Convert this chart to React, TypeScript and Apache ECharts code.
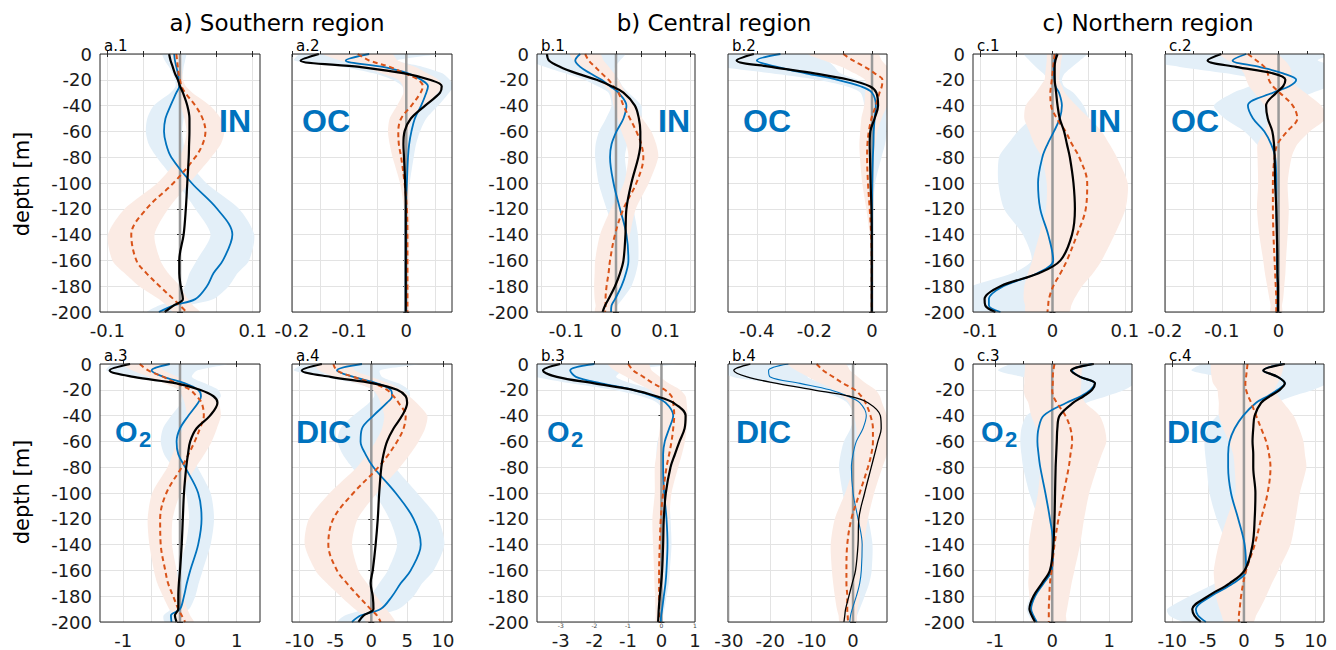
import { useEffect, useRef } from 'react';
import * as echarts from 'echarts';

// Depth levels (m) at which every profile is sampled
const DEPTHS = [0, 5, 10, 15, 20, 25, 30, 40, 50, 60, 70, 80, 100, 120, 140, 160, 170, 180, 190, 195, 200];

// ---- a) Southern region ----
const A1_BLUE = [-0.008, -0.007, -0.005, -0.003, -0.002, -0.001, -0.005, -0.013, -0.02, -0.022, -0.019, -0.012, 0.016, 0.051, 0.072, 0.059, 0.046, 0.037, 0.021, -0.009, -0.029];
const A1_ORANGE = [-0.005, -0.004, -0.003, -0.002, 0, 0.002, 0.007, 0.021, 0.031, 0.035, 0.031, 0.021, -0.009, -0.046, -0.067, -0.06, -0.046, -0.028, -0.009, 0, 0.009];
const A1_BLACK = [-0.015, -0.013, -0.01, -0.007, -0.003, 0, 0.004, 0.01, 0.013, 0.013, 0.0125, 0.012, 0.01, 0.008, 0.005, -0.001, -0.001, 0.001, 0.004, -0.009, -0.021];
const A1_BLUE_SD = [0.016, 0.014, 0.01, 0.007, 0.005, 0.005, 0.008, 0.023, 0.025, 0.025, 0.024, 0.02, 0.02, 0.03, 0.03, 0.036, 0.033, 0.03, 0.025, 0.02, 0.016];
const A1_ORANGE_SD = [0.006, 0.006, 0.005, 0.005, 0.004, 0.006, 0.01, 0.02, 0.025, 0.026, 0.025, 0.022, 0.022, 0.03, 0.032, 0.033, 0.03, 0.028, 0.02, 0.018, 0.018];

const A2_BLUE = [-0.065, -0.106, -0.041, 0.003, 0.026, 0.038, 0.035, 0.026, 0.015, 0.009, 0.005, 0.003, 0.001, -0.001, -0.001, -0.001, -0.001, -0.001, -0.001, -0.001, -0.001];
const A2_ORANGE = [-0.085, -0.065, -0.029, -0.003, 0.021, 0.029, 0.025, 0.009, -0.009, -0.014, -0.013, -0.009, -0.003, 0.001, 0.002, 0.002, 0.002, 0.002, 0.002, 0.002, 0.002];
const A2_BLACK = [-0.153, -0.185, -0.082, -0.003, 0.041, 0.062, 0.059, 0.033, 0.008, -0.003, -0.005, -0.004, -0.002, -0.001, -0.001, -0.001, -0.001, -0.001, -0.001, -0.001, -0.001];
const A2_BLUE_SD = [0.12, 0.09, 0.07, 0.06, 0.05, 0.045, 0.04, 0.03, 0.02, 0.015, 0.012, 0.01, 0.005, 0.003, 0.003, 0.003, 0.003, 0.003, 0.003, 0.003, 0.003];
const A2_ORANGE_SD = [0.06, 0.05, 0.045, 0.04, 0.035, 0.035, 0.03, 0.025, 0.02, 0.018, 0.016, 0.015, 0.008, 0.005, 0.004, 0.003, 0.003, 0.003, 0.003, 0.003, 0.003];

const A3_BLUE = [-0.18, -0.5, -0.29, 0.09, 0.32, 0.37, 0.32, 0.15, 0, -0.06, -0.03, 0.09, 0.32, 0.38, 0.32, 0.18, 0.12, 0.07, 0, -0.16, -0.15];
const A3_ORANGE = [-0.71, -0.56, -0.29, -0.06, 0.18, 0.29, 0.38, 0.42, 0.35, 0.26, 0.15, 0.03, -0.24, -0.35, -0.34, -0.26, -0.21, -0.12, -0.03, 0.03, 0.09];
const A3_BLACK = [-0.88, -1.24, -0.82, -0.06, 0.35, 0.59, 0.66, 0.53, 0.29, 0.18, 0.14, 0.11, 0.07, 0.05, 0.03, 0, -0.02, -0.03, -0.03, -0.09, -0.06];
const A3_BLUE_SD = [1.0, 0.8, 0.5, 0.35, 0.35, 0.35, 0.3, 0.3, 0.3, 0.28, 0.25, 0.22, 0.22, 0.22, 0.22, 0.22, 0.21, 0.2, 0.16, 0.13, 0.12];
const A3_ORANGE_SD = [0.3, 0.28, 0.25, 0.22, 0.2, 0.25, 0.3, 0.3, 0.3, 0.3, 0.28, 0.25, 0.25, 0.22, 0.2, 0.2, 0.19, 0.18, 0.16, 0.15, 0.15];

const A4_BLUE = [-1.3, -4.8, -2.5, 0.8, 2.7, 2.9, 2.2, 0.3, -1.3, -1.5, -0.8, 0.3, 3.4, 5.9, 6.9, 5.5, 4.1, 2.9, 1.3, -1.5, -2.7];
const A4_ORANGE = [-5.3, -4.8, -2.5, 0.3, 2.2, 3.1, 3.8, 4.8, 4.5, 3.6, 2.4, 1.0, -2.5, -5.3, -6.0, -4.8, -3.4, -1.8, -0.1, 0.8, 1.3];
const A4_BLACK = [-6.9, -9.7, -5.7, 0.3, 3.6, 4.8, 5.0, 4.3, 3.1, 2.2, 1.7, 1.4, 1.1, 0.9, 0.6, 0.2, -0.1, 0.2, 0.3, -1.1, -1.8];
const A4_BLUE_SD = [8, 6, 4, 3, 2.5, 2.5, 2.5, 2.8, 3, 3.2, 3.2, 3, 3, 3.4, 3.3, 3.2, 3, 3, 2.5, 2.2, 2];
const A4_ORANGE_SD = [2.5, 2.5, 2.5, 2.2, 2, 2.2, 2.5, 3, 3, 3, 3, 3, 3.3, 3.4, 3.3, 3, 2.8, 2.5, 2.2, 2, 2];

// ---- b) Central region ----
const B1_BLUE = [-0.072, -0.082, -0.072, -0.052, -0.029, -0.012, 0.005, 0.021, 0.015, 0.001, -0.009, -0.012, -0.005, 0.008, 0.021, 0.025, 0.02, 0.011, -0.002, -0.009, -0.01];
const B1_ORANGE = [-0.062, -0.055, -0.042, -0.029, -0.015, -0.005, 0.005, 0.015, 0.028, 0.041, 0.051, 0.055, 0.041, 0.015, -0.002, -0.012, -0.015, -0.019, -0.021, -0.021, -0.022];
const B1_BLACK = [-0.139, -0.135, -0.112, -0.079, -0.039, -0.009, 0.015, 0.038, 0.046, 0.049, 0.049, 0.045, 0.031, 0.021, 0.019, 0.015, 0.008, -0.002, -0.015, -0.022, -0.027];
const B1_BLUE_SD = [0.09, 0.09, 0.07, 0.05, 0.035, 0.025, 0.02, 0.03, 0.035, 0.035, 0.032, 0.03, 0.03, 0.027, 0.023, 0.02, 0.02, 0.02, 0.015, 0.012, 0.01];
const B1_ORANGE_SD = [0.03, 0.03, 0.028, 0.025, 0.02, 0.017, 0.015, 0.02, 0.025, 0.03, 0.03, 0.03, 0.025, 0.025, 0.03, 0.03, 0.028, 0.025, 0.022, 0.02, 0.02];

const B2_BLUE = [-0.318, -0.4, -0.33, -0.23, -0.12, -0.04, 0, 0.013, 0.009, 0.006, 0.005, 0.003, 0.001, 0, 0, 0, 0, 0, 0, 0, 0];
const B2_ORANGE = [-0.1, -0.066, -0.025, 0.009, 0.036, 0.034, 0.026, 0.013, -0.002, -0.011, -0.016, -0.017, -0.014, -0.008, -0.003, -0.001, -0.001, -0.001, -0.001, -0.001, -0.001];
const B2_BLACK = [-0.41, -0.47, -0.35, -0.2, -0.08, -0.008, 0.015, 0.021, 0.009, -0.006, -0.008, -0.007, -0.005, -0.002, -0.001, -0.001, -0.001, -0.001, -0.001, -0.001, -0.001];
const B2_BLUE_SD = [0.3, 0.25, 0.2, 0.12, 0.07, 0.05, 0.04, 0.04, 0.04, 0.045, 0.04, 0.03, 0.01, 0.004, 0.003, 0.003, 0.003, 0.003, 0.003, 0.003, 0.003];
const B2_ORANGE_SD = [0.12, 0.1, 0.08, 0.07, 0.06, 0.055, 0.05, 0.04, 0.035, 0.03, 0.028, 0.025, 0.02, 0.012, 0.005, 0.003, 0.003, 0.003, 0.003, 0.003, 0.003];

const B3_BLUE = [-2.0, -2.72, -2.55, -1.8, -0.85, -0.25, 0.12, 0.35, 0.23, 0.1, 0.05, 0.05, 0.08, 0.15, 0.18, 0.15, 0.12, 0.07, 0.02, -0.01, -0.02];
const B3_ORANGE = [-0.99, -0.84, -0.54, -0.25, 0.1, 0.3, 0.35, 0.38, 0.35, 0.3, 0.23, 0.15, 0.05, -0.02, -0.05, -0.07, -0.07, -0.07, -0.07, -0.07, -0.07];
const B3_BLACK = [-3.02, -3.53, -3.12, -2.0, -0.85, -0.15, 0.35, 0.72, 0.69, 0.54, 0.4, 0.27, 0.13, 0.07, 0.05, 0.02, -0.01, -0.05, -0.08, -0.09, -0.1];
const B3_BLUE_SD = [2.5, 1.6, 1.2, 0.9, 0.6, 0.35, 0.25, 0.2, 0.2, 0.22, 0.2, 0.2, 0.15, 0.12, 0.12, 0.1, 0.1, 0.08, 0.07, 0.06, 0.06];
const B3_ORANGE_SD = [0.6, 0.55, 0.5, 0.47, 0.45, 0.42, 0.4, 0.4, 0.4, 0.4, 0.38, 0.35, 0.25, 0.25, 0.2, 0.15, 0.14, 0.12, 0.11, 0.1, 0.1];

const B4_BLUE = [-15.6, -20.4, -20, -12.8, -5.6, -1.2, 1.6, 3.2, 2.4, 0.8, 0, -0.4, 0, 1.2, 2.2, 2.0, 1.6, 0.8, -0.2, -0.6, -0.8];
const B4_ORANGE = [-8.8, -7.2, -4.8, -2.4, 0.4, 2, 3, 4.2, 4.8, 4.8, 4.4, 3.6, 1.6, -0.4, -1.4, -1.6, -1.6, -1.4, -1.4, -1.3, -1.2];
const B4_BLACK = [-24.8, -28.8, -25.6, -18.4, -9.6, -0.8, 3.6, 6.6, 6.8, 6.0, 5.2, 4.4, 2.8, 1.4, 1.2, 0.6, -0.2, -1.0, -1.8, -2.0, -2.2];
const B4_BLUE_SD = [16, 12, 9, 6, 4, 3, 3, 3, 3, 3, 3, 3, 2.5, 2.5, 2.5, 2.5, 2.3, 2, 1.8, 1.6, 1.5];
const B4_ORANGE_SD = [7, 6.5, 6, 5.5, 5, 4.5, 4, 4, 4, 4, 3.8, 3.5, 3.5, 4, 4, 3.5, 3.2, 3, 2.5, 2.2, 2];

// ---- c) Northern region ----
const C1_BLUE = [0.004, 0.003, 0.002, 0.002, 0.003, 0.004, 0.009, 0.013, 0.01, 0.002, -0.007, -0.014, -0.02, -0.017, -0.006, 0.001, -0.021, -0.068, -0.088, -0.088, -0.072];
const C1_ORANGE = [0.003, 0.002, 0.001, 0, -0.001, -0.002, -0.003, -0.002, 0.006, 0.018, 0.027, 0.037, 0.048, 0.046, 0.034, 0.02, 0.011, 0.001, -0.005, -0.006, -0.007];
const C1_BLACK = [0.007, 0.004, 0.003, 0.003, 0.003, 0.004, 0.005, 0.007, 0.01, 0.016, 0.02, 0.024, 0.029, 0.031, 0.027, 0.011, -0.019, -0.072, -0.094, -0.093, -0.079];
const C1_BLUE_SD = [0.043, 0.035, 0.025, 0.015, 0.01, 0.012, 0.02, 0.03, 0.04, 0.05, 0.055, 0.06, 0.055, 0.05, 0.035, 0.03, 0.035, 0.045, 0.06, 0.06, 0.05];
const C1_ORANGE_SD = [0.01, 0.01, 0.01, 0.01, 0.01, 0.015, 0.02, 0.035, 0.045, 0.05, 0.052, 0.052, 0.056, 0.055, 0.052, 0.048, 0.045, 0.04, 0.035, 0.032, 0.03];

const C2_BLUE = [-0.057, -0.081, -0.034, 0.008, 0.031, 0.019, -0.01, -0.054, -0.045, -0.025, -0.013, -0.006, -0.004, -0.004, -0.003, -0.003, -0.002, -0.002, -0.002, -0.002, -0.002];
const C2_ORANGE = [-0.054, -0.039, -0.025, -0.019, -0.017, -0.01, 0.002, 0.025, 0.033, 0.015, -0.002, -0.007, -0.01, -0.01, -0.009, -0.007, -0.006, -0.005, -0.004, -0.004, -0.004];
const C2_BLACK = [-0.101, -0.125, -0.075, -0.01, 0.012, 0.008, -0.004, -0.022, -0.019, -0.011, -0.008, -0.007, -0.006, -0.004, -0.003, -0.002, -0.002, -0.001, -0.001, -0.001, -0.001];
const C2_BLUE_SD = [0.15, 0.15, 0.14, 0.1, 0.07, 0.07, 0.07, 0.06, 0.05, 0.035, 0.025, 0.015, 0.008, 0.005, 0.005, 0.005, 0.005, 0.005, 0.005, 0.005, 0.005];
const C2_ORANGE_SD = [0.05, 0.05, 0.045, 0.042, 0.04, 0.042, 0.045, 0.05, 0.05, 0.04, 0.035, 0.03, 0.026, 0.028, 0.025, 0.02, 0.018, 0.015, 0.012, 0.01, 0.01];

const C3_BLUE = [0.7, 0.35, 0.49, 0.75, 0.67, 0.5, 0.25, -0.15, -0.24, -0.26, -0.24, -0.21, -0.12, -0.04, 0.02, -0.01, -0.15, -0.3, -0.37, -0.33, -0.27];
const C3_ORANGE = [0.04, 0.02, 0.01, 0.01, 0, 0.02, 0.08, 0.23, 0.32, 0.35, 0.32, 0.29, 0.2, 0.11, 0.04, -0.01, -0.04, -0.05, -0.06, -0.06, -0.06];
const C3_BLACK = [0.73, 0.33, 0.49, 0.75, 0.7, 0.55, 0.37, 0.13, 0.09, 0.08, 0.07, 0.06, 0.05, 0.04, 0.02, -0.04, -0.18, -0.33, -0.4, -0.36, -0.3];
const C3_BLUE_SD = [1.4, 1.3, 1.0, 0.7, 0.6, 0.45, 0.35, 0.3, 0.3, 0.3, 0.3, 0.3, 0.28, 0.2, 0.12, 0.1, 0.1, 0.08, 0.08, 0.08, 0.08];
const C3_ORANGE_SD = [0.5, 0.5, 0.5, 0.5, 0.5, 0.5, 0.5, 0.6, 0.6, 0.6, 0.55, 0.5, 0.45, 0.45, 0.45, 0.4, 0.38, 0.35, 0.32, 0.3, 0.3];

const C4_BLUE = [5.4, 2.7, 4.7, 5.7, 4.7, 3.3, 1.7, -0.1, -1.3, -2.0, -2.2, -2.2, -1.8, -0.8, 0.1, 0.3, -1.5, -4.6, -6.7, -6.4, -5.3];
const C4_ORANGE = [0.5, 0.4, 0.3, 0.2, 0.3, 0.6, 1.0, 1.7, 2.4, 3.1, 3.5, 3.7, 3.3, 2.4, 1.5, 0.3, -0.1, -0.4, -0.6, -0.7, -0.7];
const C4_BLACK = [5.7, 2.7, 4.7, 5.7, 5.0, 3.6, 2.4, 1.5, 1.3, 1.2, 1.3, 1.3, 1.6, 1.5, 1.2, 0.1, -2.0, -5.0, -7.2, -6.9, -6.0];
const C4_BLUE_SD = [11, 10, 8, 6, 5, 3.5, 3, 3.6, 3.8, 3.5, 3.2, 3, 3, 3, 2.5, 2, 2.5, 3, 4, 4, 3];
const C4_ORANGE_SD = [5, 5, 4.8, 4.5, 4, 4.2, 4.5, 5.2, 5.3, 5.2, 5, 5, 4.5, 4.8, 5, 4.5, 4, 3.5, 2.8, 2.4, 2];

// Axis ticks and labels
const Y_MIN = -200;
const Y_MAX = 0;
const Y_STEP = 20;
const TICKS_IN = [-0.1, -0.05, 0, 0.05, 0.1];
const LABELS_IN = [-0.1, 0, 0.1];
const TICKS_OC = [-0.2, -0.15, -0.1, -0.05, 0, 0.05];
const LABELS_OC = [-0.2, -0.1, 0];
const TICKS_IN_B = [-0.15, -0.1, -0.05, 0, 0.05, 0.1, 0.15];
const TICKS_OC_B = [-0.4, -0.3, -0.2, -0.1, 0];
const LABELS_OC_B = [-0.4, -0.2, 0];
const TICKS_O2 = [-1, -0.5, 0, 0.5, 1];
const LABELS_O2 = [-1, 0, 1];
const TICKS_DIC = [-10, -5, 0, 5, 10];
const TICKS_O2_B = [-3, -2, -1, 0, 1];
const TICKS_DIC_B = [-30, -20, -10, 0];

type Panel = {
  id: string;
  tag: string;
  xMin: number;
  xMax: number;
  ticks: number[];
  labels: number[];
  blue: number[];
  orange: number[];
  black: number[];
  blueSd: number[];
  orangeSd: number[];
  yLabels: boolean;
  thin?: boolean;
};

const PANELS: Panel[] = [
  { id: 'a.1', tag: 'IN', xMin: -0.11, xMax: 0.11, ticks: TICKS_IN, labels: LABELS_IN, blue: A1_BLUE, orange: A1_ORANGE, black: A1_BLACK, blueSd: A1_BLUE_SD, orangeSd: A1_ORANGE_SD, yLabels: true },
  { id: 'a.2', tag: 'OC', xMin: -0.2, xMax: 0.08, ticks: TICKS_OC, labels: LABELS_OC, blue: A2_BLUE, orange: A2_ORANGE, black: A2_BLACK, blueSd: A2_BLUE_SD, orangeSd: A2_ORANGE_SD, yLabels: false },
  { id: 'b.1', tag: 'IN', xMin: -0.159, xMax: 0.159, ticks: TICKS_IN_B, labels: LABELS_IN, blue: B1_BLUE, orange: B1_ORANGE, black: B1_BLACK, blueSd: B1_BLUE_SD, orangeSd: B1_ORANGE_SD, yLabels: true },
  { id: 'b.2', tag: 'OC', xMin: -0.5, xMax: 0.052, ticks: TICKS_OC_B, labels: LABELS_OC_B, blue: B2_BLUE, orange: B2_ORANGE, black: B2_BLACK, blueSd: B2_BLUE_SD, orangeSd: B2_ORANGE_SD, yLabels: false },
  { id: 'c.1', tag: 'IN', xMin: -0.11, xMax: 0.11, ticks: TICKS_IN, labels: LABELS_IN, blue: C1_BLUE, orange: C1_ORANGE, black: C1_BLACK, blueSd: C1_BLUE_SD, orangeSd: C1_ORANGE_SD, yLabels: true },
  { id: 'c.2', tag: 'OC', xMin: -0.2, xMax: 0.08, ticks: TICKS_OC, labels: LABELS_OC, blue: C2_BLUE, orange: C2_ORANGE, black: C2_BLACK, blueSd: C2_BLUE_SD, orangeSd: C2_ORANGE_SD, yLabels: false },
  { id: 'a.3', tag: 'O2', xMin: -1.41, xMax: 1.41, ticks: TICKS_O2, labels: LABELS_O2, blue: A3_BLUE, orange: A3_ORANGE, black: A3_BLACK, blueSd: A3_BLUE_SD, orangeSd: A3_ORANGE_SD, yLabels: true },
  { id: 'a.4', tag: 'DIC', xMin: -11.07, xMax: 11.26, ticks: TICKS_DIC, labels: TICKS_DIC, blue: A4_BLUE, orange: A4_ORANGE, black: A4_BLACK, blueSd: A4_BLUE_SD, orangeSd: A4_ORANGE_SD, yLabels: false },
  { id: 'b.3', tag: 'O2', xMin: -3.71, xMax: 1.0, ticks: TICKS_O2_B, labels: TICKS_O2_B, blue: B3_BLUE, orange: B3_ORANGE, black: B3_BLACK, blueSd: B3_BLUE_SD, orangeSd: B3_ORANGE_SD, yLabels: true },
  { id: 'b.4', tag: 'DIC', xMin: -30.2, xMax: 8.2, ticks: TICKS_DIC_B, labels: TICKS_DIC_B, blue: B4_BLUE, orange: B4_ORANGE, black: B4_BLACK, blueSd: B4_BLUE_SD, orangeSd: B4_ORANGE_SD, yLabels: false, thin: true },
  { id: 'c.3', tag: 'O2', xMin: -1.39, xMax: 1.4, ticks: TICKS_O2, labels: LABELS_O2, blue: C3_BLUE, orange: C3_ORANGE, black: C3_BLACK, blueSd: C3_BLUE_SD, orangeSd: C3_ORANGE_SD, yLabels: true },
  { id: 'c.4', tag: 'DIC', xMin: -11.0, xMax: 11.16, ticks: TICKS_DIC, labels: TICKS_DIC, blue: C4_BLUE, orange: C4_ORANGE, black: C4_BLACK, blueSd: C4_BLUE_SD, orangeSd: C4_ORANGE_SD, yLabels: false },
];

const REGION_TITLES = ['a) Southern region', 'b) Central region', 'c) Northern region'];

// Layout (px)
const COL_LEFT = [100, 292, 537, 728, 973, 1165];
const COL_WIDTH = [160, 160, 158, 159, 159, 159];
const ROW_TOP = [54, 364];
const PLOT_H = 258;
const TITLE_X = [277, 714, 1148];
const TAG_LEFT = [219, 302, 658, 743, 1089, 1171, 115, 296, 547, 736, 981, 1167];
const TAG_Y = [121, 432];

// Styles
const FONT = 'DejaVu Sans';
const TAG_FONT = 'Liberation Sans';
const TXT = '#1a1a1a';
const BOX = '#262626';
const GRIDLINE = '#e3e3e3';
const BLUE = '#0072BD';
const ORANGE = '#D95319';
const BLUE_FILL = '#e3eff8';
const ORANGE_FILL = '#fbebe4';
const ZERO = '#999999';

// Shaded envelope (centre ± spread) drawn as one polygon through the axis scales
function bandSeries(idx: number, center: number[], sd: number[], fill: string, z: number) {
  return {
    type: 'custom',
    xAxisIndex: 2 * idx,
    yAxisIndex: 2 * idx,
    silent: true,
    clip: true,
    z,
    data: DEPTHS.map((d, k) => [center[k], -d]),
    renderItem: (params: any, api: any) => {
      if (params.dataIndex !== 0) return null;
      const lower = DEPTHS.map((d, k) => api.coord([center[k] - sd[k], -d]));
      const upper = DEPTHS.map((d, k) => api.coord([center[k] + sd[k], -d])).reverse();
      return {
        type: 'polygon',
        shape: { points: lower.concat(upper), smooth: 0.25 },
        style: { fill, stroke: 'none' },
      };
    },
  };
}

function profile(idx: number, values: number[], color: string, width: number, dashed: boolean, z: number) {
  return {
    type: 'line',
    xAxisIndex: 2 * idx,
    yAxisIndex: 2 * idx,
    data: DEPTHS.map((d, k) => [values[k], -d]),
    smooth: 0.35,
    symbol: 'none',
    silent: true,
    z,
    lineStyle: { color, width, type: dashed ? [5, 3.5] : 'solid' },
  };
}

function buildOption() {
  const grid: any[] = [];
  const xAxis: any[] = [];
  const yAxis: any[] = [];
  const series: any[] = [];
  const graphic: any[] = [];

  PANELS.forEach((p, i) => {
    const row = Math.floor(i / 6);
    const col = i % 6;
    const top = ROW_TOP[row];
    const left = COL_LEFT[col];
    // the grid's box sits above the shaded envelopes
    grid.push({ left, top, width: COL_WIDTH[col], height: PLOT_H, show: true, z: 10, borderColor: BOX, borderWidth: 1, backgroundColor: 'transparent' });

    const tickStyle = { color: BOX, width: 1 };
    xAxis.push({
      type: 'value', gridIndex: i, min: p.xMin, max: p.xMax, position: 'bottom',
      axisLine: { show: false },
      axisTick: { show: true, inside: true, length: 3, customValues: p.ticks, lineStyle: tickStyle },
      axisLabel: { customValues: p.labels, fontSize: 18, fontFamily: FONT, color: TXT, margin: 9 },
      splitLine: { show: true, lineStyle: { color: GRIDLINE, width: 1 } },
    });
    xAxis.push({
      type: 'value', gridIndex: i, min: p.xMin, max: p.xMax, position: 'top',
      axisLine: { show: false },
      axisTick: { show: true, inside: true, length: 3, customValues: p.ticks, lineStyle: tickStyle },
      axisLabel: { show: false },
      splitLine: { show: false },
    });
    yAxis.push({
      type: 'value', gridIndex: i, min: Y_MIN, max: Y_MAX, interval: Y_STEP, position: 'left',
      axisLine: { show: false },
      axisTick: { show: true, inside: true, length: 3, lineStyle: tickStyle },
      axisLabel: { show: p.yLabels, fontSize: 18, fontFamily: FONT, color: TXT, margin: 8 },
      splitLine: { show: true, lineStyle: { color: GRIDLINE, width: 1 } },
    });
    yAxis.push({
      type: 'value', gridIndex: i, min: Y_MIN, max: Y_MAX, interval: Y_STEP, position: 'right',
      axisLine: { show: false },
      axisTick: { show: true, inside: true, length: 3, lineStyle: tickStyle },
      axisLabel: { show: false },
      splitLine: { show: false },
    });

    series.push(bandSeries(i, p.blue, p.blueSd, BLUE_FILL, 1));
    series.push(bandSeries(i, p.orange, p.orangeSd, ORANGE_FILL, 2));
    series.push({
      type: 'line', xAxisIndex: 2 * i, yAxisIndex: 2 * i, data: [[0, Y_MAX], [0, Y_MIN]],
      symbol: 'none', silent: true, z: 3, lineStyle: { color: ZERO, width: 2.5 },
    });
    series.push(profile(i, p.blue, BLUE, p.thin ? 1.1 : 1.8, false, 4));
    series.push(profile(i, p.orange, ORANGE, 2, true, 5));
    series.push(profile(i, p.black, '#000000', p.thin ? 1.3 : 2.2, false, 6));

    // panel index label
    graphic.push({
      type: 'text', x: left + 4, y: top - 1,
      style: { text: p.id, font: `15px ${FONT}`, fill: '#000', textAlign: 'left', textVerticalAlign: 'bottom' },
    });

    // variable tag
    const tagLeft = TAG_LEFT[i];
    const tagY = TAG_Y[row];
    if (p.tag === 'O2') {
      graphic.push({
        type: 'text', x: tagLeft, y: tagY, z: 10,
        style: { text: 'O', font: `bold 29px ${TAG_FONT}`, fill: BLUE, textAlign: 'left', textVerticalAlign: 'middle' },
      });
      graphic.push({
        type: 'text', x: tagLeft + 24, y: tagY + 7, z: 10,
        style: { text: '2', font: `bold 22px ${TAG_FONT}`, fill: BLUE, textAlign: 'left', textVerticalAlign: 'middle' },
      });
    } else {
      graphic.push({
        type: 'text', x: tagLeft, y: tagY, z: 10,
        style: { text: p.tag, font: `bold 32px ${TAG_FONT}`, fill: BLUE, textAlign: 'left', textVerticalAlign: 'middle' },
      });
    }
  });

  // small duplicate labels just under the O2 axis of the central region
  xAxis.push({
    type: 'value', gridIndex: 8, min: PANELS[8].xMin, max: PANELS[8].xMax, position: 'bottom',
    axisLine: { show: false },
    axisTick: { show: false, customValues: TICKS_O2_B },
    axisLabel: { customValues: TICKS_O2_B, fontSize: 6, fontFamily: FONT, color: '#444', margin: 0 },
    splitLine: { show: false },
  });

  REGION_TITLES.forEach((t, k) => {
    graphic.push({
      type: 'text', x: TITLE_X[k], y: 23,
      style: { text: t, font: `23px ${FONT}`, fill: '#000', textAlign: 'center', textVerticalAlign: 'middle' },
    });
  });

  [184, 492].forEach((cy) => {
    graphic.push({
      type: 'text', x: 22, y: cy, rotation: Math.PI / 2,
      style: { text: 'depth [m]', font: `21px ${FONT}`, fill: '#000', textAlign: 'center', textVerticalAlign: 'middle' },
    });
  });

  return {
    animation: false,
    backgroundColor: '#ffffff',
    grid,
    xAxis,
    yAxis,
    series,
    graphic: { elements: graphic },
  };
}

export default function App() {
  const ref = useRef<HTMLDivElement>(null);
  useEffect(() => {
    if (!ref.current) return;
    const chart = echarts.init(ref.current, null, { renderer: 'svg', width: 1336, height: 650 });
    chart.setOption(buildOption() as any);
    return () => chart.dispose();
  }, []);
  return (
    <div
      ref={ref}
      style={{ position: 'absolute', left: 0, top: 0, width: 1336, height: 650, background: '#fff' }}
    />
  );
}
